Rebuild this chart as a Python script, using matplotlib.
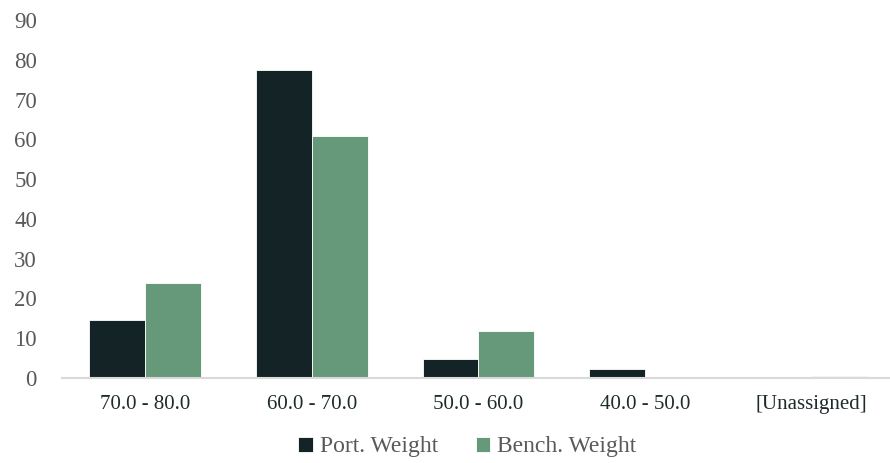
import numpy as np
import matplotlib.pyplot as plt

plt.rcParams['font.family'] = ['Liberation Serif', 'DejaVu Serif']

categories = ['70.0 - 80.0', '60.0 - 70.0', '50.0 - 60.0', '40.0 - 50.0', '[Unassigned]']
port_weight = [14.6, 77.4, 4.9, 2.3, 0.0]
bench_weight = [23.8, 60.9, 11.9, 0.0, 0.4]

DARK = '#132326'
GREEN = '#66997A'

fig = plt.figure(figsize=(8.9, 4.63), dpi=100)
ax = fig.add_axes([62 / 890, 1 - 378 / 463, 1 - 62 / 890, (378 - 20) / 463])

x = np.arange(len(categories))
w = 0.335
ax.bar(x - w / 2, port_weight, w, color=DARK, edgecolor='white', linewidth=0.6,
       label='Port. Weight')
ax.bar(x + w / 2, bench_weight, w, color=GREEN, edgecolor='white', linewidth=0.6,
       label='Bench. Weight')

ax.set_xlim(-0.5, 4.47)
ax.set_ylim(0, 90)
ax.set_yticks(range(0, 91, 10))
ax.set_xticks(x)
ax.set_xticklabels(categories, fontsize=15, color='#1E2B2B')
ax.tick_params(axis='y', labelsize=16.5, labelcolor='#595959', length=0, pad=18)
ax.tick_params(axis='x', length=0, pad=12)

for s in ['top', 'right', 'left']:
    ax.spines[s].set_visible(False)
ax.spines['bottom'].set_color('#D9D9D9')
ax.spines['bottom'].set_linewidth(1.5)

leg = fig.legend(loc='lower center', bbox_to_anchor=(0.525, -0.034), ncol=2, frameon=False,
                 fontsize=17, handlelength=0.6, handleheight=0.6, handletextpad=0.3,
                 columnspacing=1.6)
for t in leg.get_texts():
    t.set_color('#595959')

fig.savefig('out.png', dpi=100)
